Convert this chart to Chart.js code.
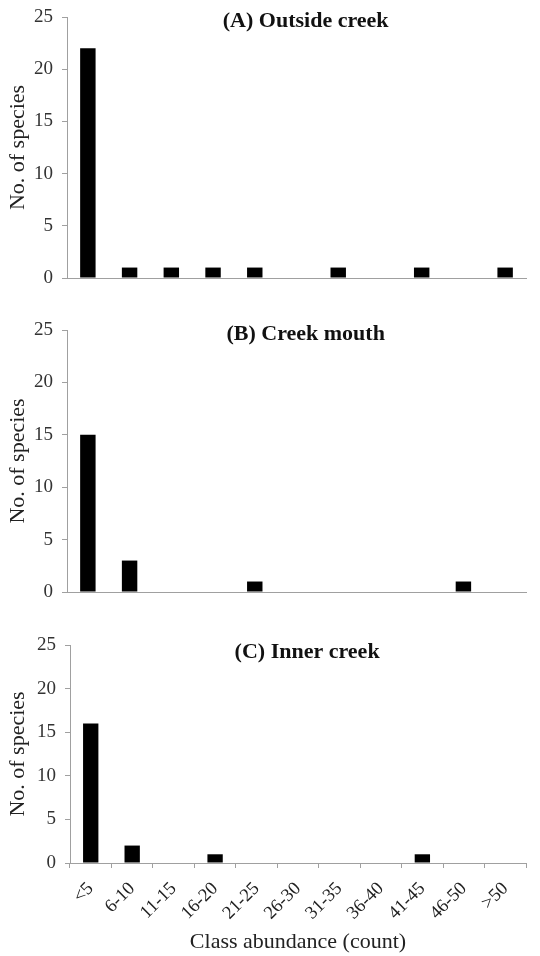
<!DOCTYPE html>
<html>
<head>
<meta charset="utf-8">
<script src="https://cdn.jsdelivr.net/npm/chart.js@4"></script>
<style>
  body { margin: 0; background: #fff; }
  .panel { position: absolute; left: 0; width: 540px; }
</style>
</head>
<body>
<div class="panel" style="top:0px"><canvas id="chartA" width="540" height="300"></canvas></div>
<div class="panel" style="top:300px"><canvas id="chartB" width="540" height="320"></canvas></div>
<div class="panel" style="top:620px"><canvas id="chartC" width="540" height="336"></canvas></div>
<script>
// abundance classes and number of species in each
const classes = ['<5', '6-10', '11-15', '16-20', '21-25', '26-30', '31-35', '36-40', '41-45', '46-50', '>50'];
const outsideCreek = [22, 1, 1, 1, 1, 0, 1, 0, 1, 0, 1];
const creekMouth = [15, 3, 0, 0, 1, 0, 0, 0, 0, 1, 0];
const innerCreek = [16, 2, 0, 1, 0, 0, 0, 0, 1, 0, 0];
const yTicks = [0, 5, 10, 15, 20, 25];

Chart.defaults.font.family = '"Liberation Serif", "Times New Roman", serif';
Chart.defaults.color = '#333';

const axisGrey = '#a0a0a0';

// draws the bold panel heading inside the plot area
const panelTitle = {
    id: 'panelTitle',
    afterDraw(chart, args, opts) {
        const ctx = chart.ctx;
        const area = chart.chartArea;
        ctx.save();
        ctx.font = 'bold 22px "Liberation Serif", serif';
        ctx.fillStyle = '#111';
        ctx.textAlign = 'center';
        ctx.textBaseline = 'middle';
        ctx.fillText(opts.text, area.left + (area.right - area.left) * 0.52, area.top + opts.dy);
        ctx.restore();
    }
};

function makeChart(id, data, title, opts) {
    const showLabels = opts.showLabels;
    new Chart(document.getElementById(id), {
        type: 'bar',
        data: {
            labels: classes,
            datasets: [{
                data: data,
                backgroundColor: '#000',
                categoryPercentage: 1,
                barPercentage: 0.37
            }]
        },
        options: {
            responsive: false,
            animation: false,
            layout: { padding: { top: opts.top, right: 14, left: 0, bottom: 0 } },
            scales: {
                y: {
                    min: 0,
                    max: 25,
                    afterBuildTicks: s => { s.ticks = yTicks.map(v => ({ value: v })); },
                    afterFit: s => {
                        s.width = opts.yWidth;
                        s.paddingTop = 0;
                        s.paddingBottom = 0;
                    },
                    ticks: { font: { size: 19 }, padding: 9, color: '#333' },
                    grid: { drawOnChartArea: false, tickLength: 5, color: axisGrey },
                    border: { color: axisGrey },
                    title: {
                        display: true,
                        text: 'No. of species',
                        font: { size: 22 },
                        color: '#222',
                        padding: { top: 5, bottom: 0 }
                    }
                },
                x: {
                    afterFit: s => {
                        s.height = opts.xHeight;
                        s.paddingLeft = 0;
                        s.paddingRight = 0;
                    },
                    ticks: {
                        display: showLabels,
                        font: { size: 18.5 },
                        maxRotation: 45,
                        minRotation: 45,
                        padding: 10,
                        color: '#222'
                    },
                    grid: { drawOnChartArea: false, drawTicks: showLabels, tickLength: 5, color: axisGrey },
                    border: { color: axisGrey },
                    title: {
                        display: showLabels,
                        text: 'Class abundance (count)',
                        font: { size: 22 },
                        color: '#222',
                        padding: { top: 4, bottom: 1 }
                    }
                }
            },
            plugins: {
                legend: { display: false },
                tooltip: { enabled: false },
                panelTitle: { text: title, dy: opts.titleDy }
            }
        },
        plugins: [panelTitle]
    });
}

makeChart('chartA', outsideCreek, '(A) Outside creek', { top: 17, xHeight: 22, yWidth: 67, showLabels: false, titleDy: 4 });
makeChart('chartB', creekMouth, '(B) Creek mouth', { top: 30, xHeight: 28, yWidth: 67, showLabels: false, titleDy: 4 });
makeChart('chartC', innerCreek, '(C) Inner creek', { top: 25, xHeight: 93, yWidth: 70, showLabels: true, titleDy: 7 });
</script>
</body>
</html>
